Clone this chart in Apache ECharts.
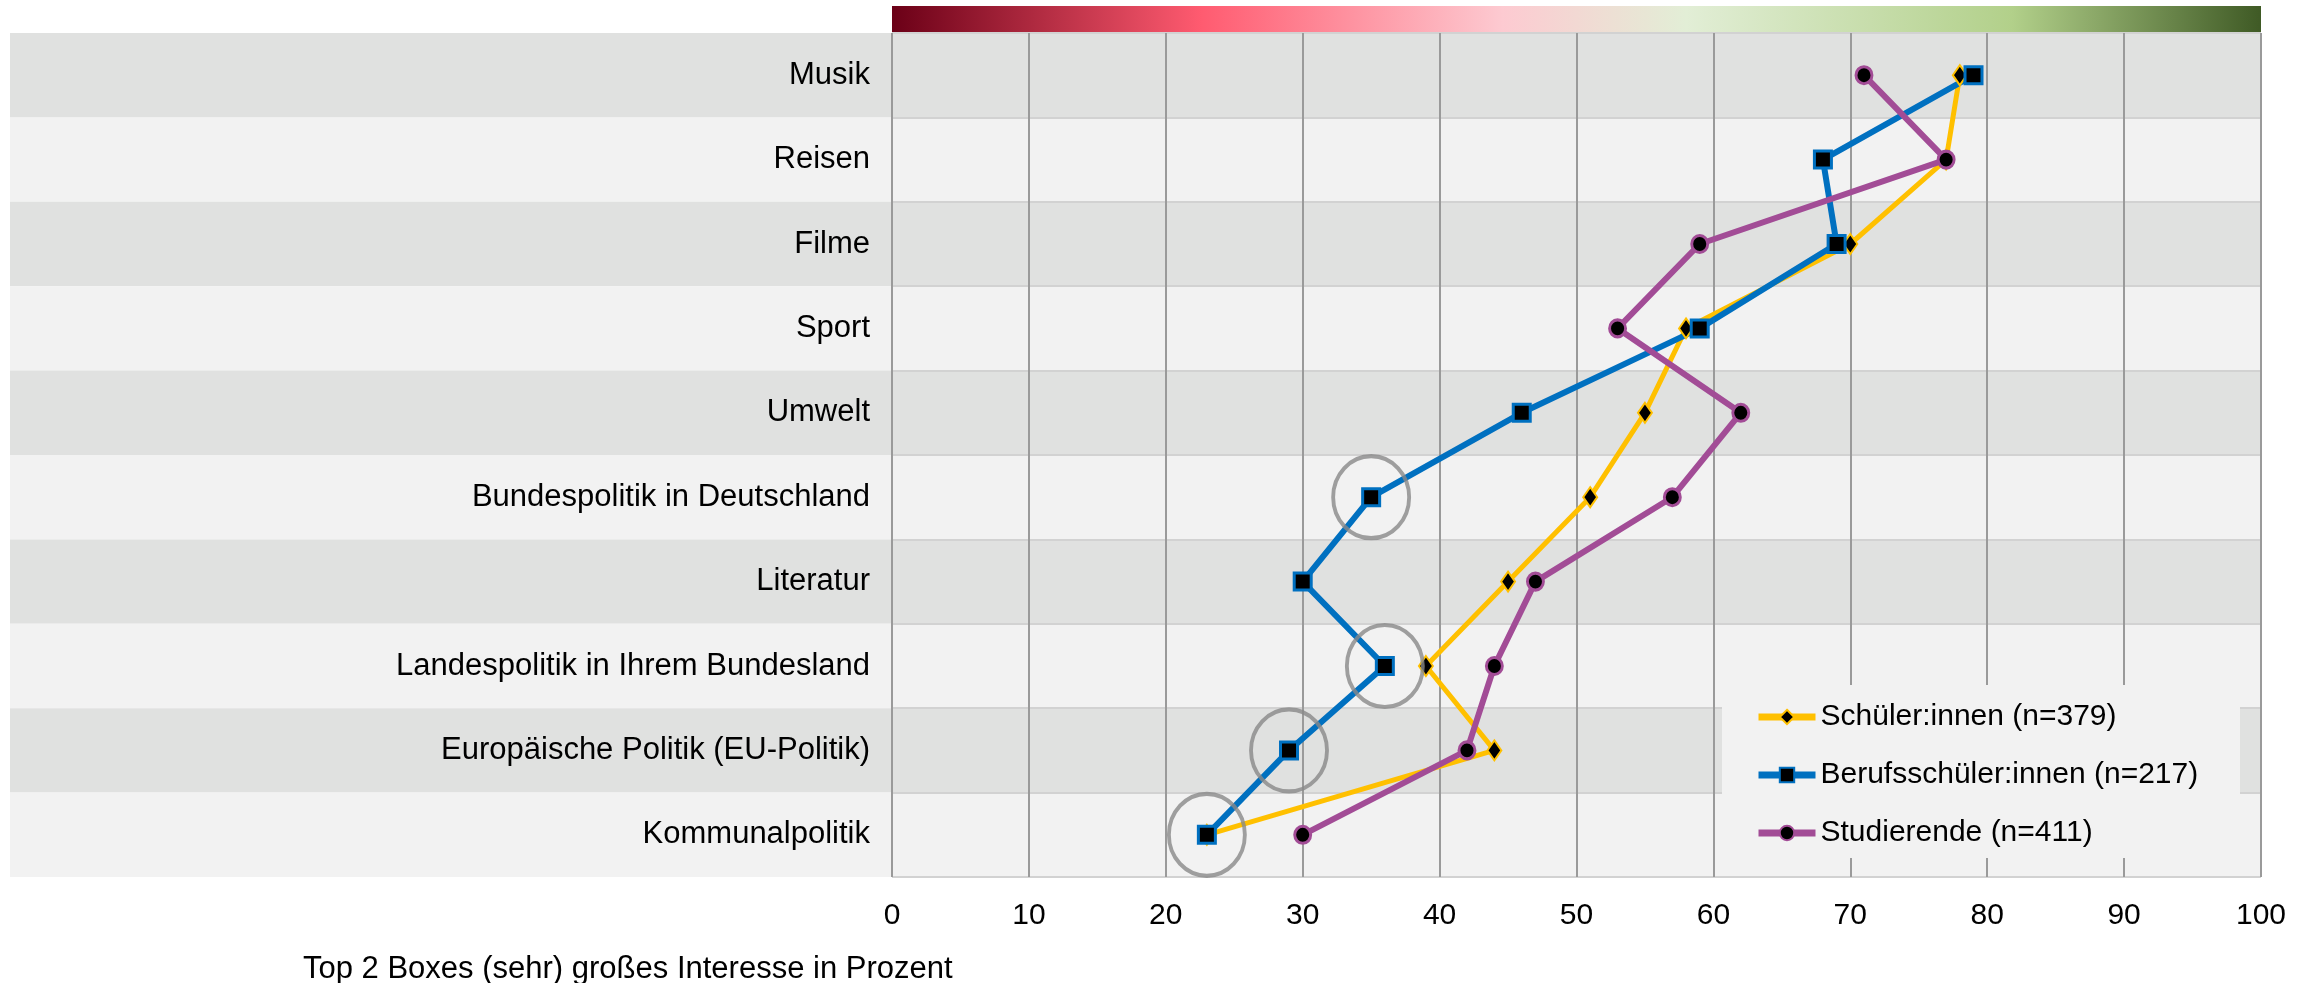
<!DOCTYPE html>
<html lang="de">
<head>
<meta charset="UTF-8">
<title>Interesse</title>
<script src="https://cdn.jsdelivr.net/npm/echarts@6/dist/echarts.min.js"></script>
<style>
  body { margin: 0; background: #fff; }
  #main { width: 2315px; height: 983px; }
</style>
</head>
<body>
<div id="main"></div>
<script type="text/javascript">
// Kategorien von oben nach unten
var categories = ['Musik', 'Reisen', 'Filme', 'Sport', 'Umwelt',
    'Bundespolitik in Deutschland', 'Literatur', 'Landespolitik in Ihrem Bundesland',
    'Europäische Politik (EU-Politik)', 'Kommunalpolitik'];

// Top 2 Boxes in Prozent
var schueler       = [78, 77, 70, 58, 55, 51, 45, 39, 44, 23];
var berufsschueler = [79, 68, 69, 59, 46, 35, 30, 36, 29, 23];
var studierende    = [71, 77, 59, 53, 62, 57, 47, 44, 42, 30];

var seriesNames = ['Schüler:innen (n=379)', 'Berufsschüler:innen (n=217)', 'Studierende (n=411)'];

// markierte Werte (Kreise) bei Berufsschüler:innen
var highlighted = ['Bundespolitik in Deutschland', 'Landespolitik in Ihrem Bundesland',
    'Europäische Politik (EU-Politik)', 'Kommunalpolitik'];

var xMin = 0, xMax = 100, xStep = 10;

var font = '"Liberation Sans", Arial, sans-serif';

function pairs(values) {
    var out = [];
    for (var i = 0; i < values.length; i++) {
        out.push([values[i], categories[i]]);
    }
    return out;
}

var circleData = [];
for (var i = 0; i < highlighted.length; i++) {
    var idx = categories.indexOf(highlighted[i]);
    circleData.push([berufsschueler[idx], highlighted[i]]);
}

var myChart = echarts.init(document.getElementById('main'));

var option = {
    animation: false,
    grid: { left: 892, right: 54, top: 33, bottom: 106, containLabel: false },
    xAxis: {
        type: 'value',
        min: xMin, max: xMax, interval: xStep,
        axisLine: { show: false },
        axisTick: { show: false },
        axisLabel: { fontSize: 30, color: '#000', fontFamily: font, margin: 24 },
        splitLine: { show: true, lineStyle: { color: '#9a9a9a', width: 2 } }
    },
    yAxis: {
        type: 'category',
        inverse: true,
        data: categories,
        axisLine: { show: false },
        axisTick: { show: false },
        axisLabel: { fontSize: 31, color: '#000', fontFamily: font, margin: 22 },
        splitLine: { show: true, lineStyle: { color: '#d2d2d2', width: 2 } },
        splitArea: { show: true, areaStyle: { color: ['#e0e1e0', '#f2f2f2'] } }
    },
    legend: {
        orient: 'vertical',
        left: 1750,
        top: 697,
        itemWidth: 57,
        itemHeight: 18,
        itemGap: 28,
        lineStyle: { width: 7 },
        textStyle: { fontSize: 30, color: '#000', fontFamily: font },
        data: seriesNames
    },
    series: [{
        name: seriesNames[0],
        type: 'line',
        data: pairs(schueler),
        symbol: 'diamond',
        symbolSize: [14, 20],
        lineStyle: { color: '#ffc000', width: 5 },
        itemStyle: { color: '#000', borderColor: '#ffc000', borderWidth: 2 }
    }, {
        name: seriesNames[1],
        type: 'line',
        data: pairs(berufsschueler),
        symbol: 'rect',
        symbolSize: [17, 17],
        lineStyle: { color: '#0070c0', width: 6 },
        itemStyle: { color: '#000', borderColor: '#0070c0', borderWidth: 3 }
    }, {
        name: seriesNames[2],
        type: 'line',
        data: pairs(studierende),
        symbol: 'circle',
        symbolSize: [16, 17],
        lineStyle: { color: '#a24c96', width: 6 },
        itemStyle: { color: '#000', borderColor: '#a24c96', borderWidth: 3 }
    }, {
        name: 'markiert',
        type: 'scatter',
        data: circleData,
        symbol: 'circle',
        symbolSize: [76, 82],
        itemStyle: { color: 'rgba(0,0,0,0)', borderColor: '#888', borderWidth: 4 },
        z: 3
    }]
};
myChart.setOption(option);

// Hintergrundbänder links neben der Zeichenfläche, Farbbalken oben, Legendenfeld, Fußzeile
var y0 = myChart.convertToPixel({ yAxisIndex: 0 }, categories[0]);
var y1 = myChart.convertToPixel({ yAxisIndex: 0 }, categories[1]);
var rowH = y1 - y0;
var xLeft = myChart.convertToPixel({ xAxisIndex: 0 }, xMin);
var xRight = myChart.convertToPixel({ xAxisIndex: 0 }, xMax);

var graphics = [];
for (var k = 0; k < categories.length; k++) {
    var cy = myChart.convertToPixel({ yAxisIndex: 0 }, categories[k]);
    graphics.push({
        type: 'rect', z: -1, silent: true,
        shape: { x: 10, y: cy - rowH / 2, width: xLeft - 11, height: rowH },
        style: { fill: k % 2 === 0 ? '#e0e1e0' : '#f2f2f2' }
    });
}
graphics.push({
    type: 'rect', silent: true,
    shape: { x: xLeft, y: 6, width: xRight - xLeft, height: 26 },
    style: {
        fill: new echarts.graphic.LinearGradient(0, 0, 1, 0, [
            { offset: 0, color: '#6b0017' },
            { offset: 0.226, color: '#ff5b70' },
            { offset: 0.446, color: '#fdcad1' },
            { offset: 0.58, color: '#e2eed6' },
            { offset: 0.818, color: '#b2d08a' },
            { offset: 1, color: '#3f5a25' }
        ])
    }
});
graphics.push({
    type: 'rect', z: 1, silent: true,
    shape: { x: 1722, y: 685, width: 518, height: 173 },
    style: { fill: '#f2f2f2' }
});
graphics.push({
    type: 'text', silent: true,
    x: 303, y: 969,
    style: {
        text: 'Top 2 Boxes (sehr) großes Interesse in Prozent',
        fontSize: 31, fontFamily: font, fill: '#000',
        verticalAlign: 'middle'
    }
});
myChart.setOption({ graphic: graphics });
</script>
</body>
</html>
